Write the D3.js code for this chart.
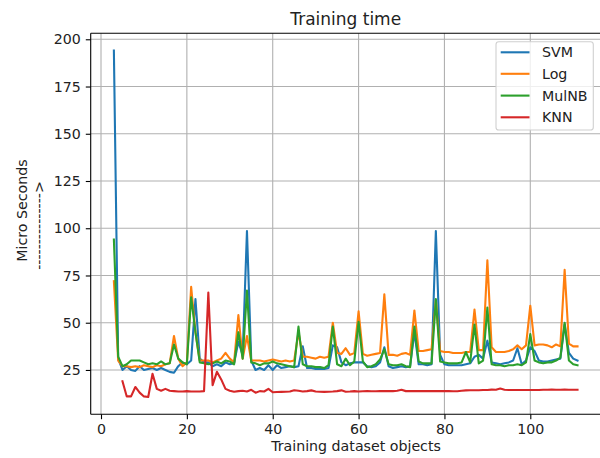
<!DOCTYPE html>
<html>
<head>
<meta charset="utf-8">
<script src="https://cdn.jsdelivr.net/npm/d3@7"></script>
<style>
  html, body { margin: 0; padding: 0; background: #fff; }
  svg { display: block; font-family: "DejaVu Sans", sans-serif; }
</style>
</head>
<body>
<svg id="chart" width="600" height="458"></svg>
<script>
// ---------------- data ----------------
const xMain = [3,4,5,6,7,8,9,10,11,12,13,14,15,16,17,18,19,20,21,22,23,24,25,26,27,28,29,30,31,32,33,34,35,36,37,38,39,40,41,42,43,44,45,46,47,48,49,50,51,52,53,54,55,56,57,58,59,60,61,62,63,64,65,66,67,68,69,70,71,72,73,74,75,76,77,78,79,80,81,82,83,84,85,86,87,88,89,90,91,92,93,94,95,96,97,98,99,100,101,102,103,104,105,106,107,108,109,110,111];
const xKnn = xMain.slice(2);

const svm = [194,31,25,27,25,24.5,27,25,25.5,26,25,26,25,24,23.5,27,29,28,30,62.5,31,29,29,27,28,27,29,28,28.5,40,33,98.5,30,25,26,25,27.5,25,27.5,26,26.5,27,26.5,27,37.5,26,26,25.5,25.5,25.5,26,38,37,29,27.5,28.5,29,29,29,27,26.5,27,29,37,27,26,26.5,27,26.5,27,45,28,28,27.5,28,98.5,33,28,27.5,27.5,27.5,27.5,28,28.5,32,33,31,40.5,29,28.5,28,28.5,29,30,36.5,28,30,37,35,30,29.5,29.5,30,30.5,31,49,34,31,30];

const logr = [72,30,27,27,26.5,27,26.5,27.5,27,26.5,27.5,27,28,28.5,43,31,27,29,69,45,30,30,30,29,30,31,34,31,29,54,31,43,30,30,30,29.5,30,30.5,30,29.5,30,29.5,30,45,32,32,31.5,31,32,31.5,32,50,34,33.5,36.5,33,34,56,33.5,32.5,33,33.5,34,65,33,33,32.5,33.5,34,33,56.5,35,35,35.5,36,62,35,34.5,34.5,34,34,34,34.5,34.5,57,35.5,35.5,83,37,34.5,34.5,34.5,35,36,38,36,38,59,38,38.5,38.5,38,37,38.5,37.5,78,39,37.5,37.5];

const mulnb = [94,32,27,28,30,30,30,29,28,28.5,28,29.5,28,28.5,38.5,31,29,28,63.5,45,29,28.5,28,28.5,29.5,28.5,30,29.5,28,45,31,67,29,28.5,27.5,28.5,28.5,29.5,28.5,28,27.5,27,26.5,48,28,27,27,26.5,26.5,26,27.5,48,28,27,31,27.5,29.5,50.5,29.5,26.5,27,28,30.5,36,28,27.5,27.5,28,27,26.5,48,29.5,28.5,28.5,28.5,62.5,29.5,29,28.5,28.5,28.5,29,34.5,29,49,28.5,30,58,28,27.5,27.5,27,27.5,27.5,28,27.5,29,44,30,29,28.5,29,29,30,31.5,50,30,28,27.5];

const knn = [19,11,11,16,13,11,10.7,23,15,14,15,14,13.8,13.6,13.6,13.8,13.6,13.6,13.6,13.8,66,17,24,20,15,14,13.5,13.8,14,13.6,14.5,13,13.8,13.6,15,13.2,13.3,13.4,13.5,13.6,14.3,14,13.6,13.8,14.2,13.6,13.5,13.4,13.5,13.6,13.8,14.2,13.5,13.6,13.8,13.6,13.7,13.8,13.7,13.7,13.8,13.8,13.8,13.8,14,14.5,13.8,13.8,13.8,13.8,13.8,13.8,13.8,13.8,13.8,13.8,13.8,13.7,13.7,14,14.2,14.3,14.3,14.3,14.4,14.4,14.6,14.5,15.2,14.5,14.4,14.4,14.4,14.4,14.4,14.4,14.4,14.4,14.5,14.5,14.6,14.5,14.5,14.6,14.5,14.5,14.5];

const seriesNames = ["SVM", "Log", "MulNB", "KNN"];
const seriesColors = ["#1f77b4", "#ff7f0e", "#2ca02c", "#d62728"];
const xTicks = [0, 20, 40, 60, 80, 100];
const yTicks = [25, 50, 75, 100, 125, 150, 175, 200];
const titleText = "Training time";
const xLabel = "Training dataset objects";
const yLabel1 = "Micro Seconds";
const yLabel2 = "--------------->";

(function () {
// ---------------- layout ----------------
const svg = d3.select("#chart");
const L = 90.7, R = 600.7, T = 33.3, B = 414.3;
const FS = 14.2;

const series = [
  {name: seriesNames[0], xs: xMain, ys: svm},
  {name: seriesNames[1], xs: xMain, ys: logr},
  {name: seriesNames[2], xs: xMain, ys: mulnb},
  {name: seriesNames[3], xs: xKnn, ys: knn}
];

const allX = series.flatMap(s => s.xs), allY = series.flatMap(s => s.ys);
const [x0, x1] = d3.extent(allX), [y0, y1] = d3.extent(allY);
const px = (x1 - x0) * 0.05, py = (y1 - y0) * 0.05;

const x = d3.scaleLinear().domain([x0 - px, x1 + px]).range([L, R]);
const y = d3.scaleLinear().domain([y0 - py, y1 + py]).range([B, T]);

// grid
const grid = svg.append("g").attr("stroke", "#b0b0b0").attr("stroke-width", 1.1);
xTicks.forEach(t => grid.append("line").attr("x1", x(t)).attr("x2", x(t)).attr("y1", T).attr("y2", B));
yTicks.forEach(t => grid.append("line").attr("x1", L).attr("x2", R).attr("y1", y(t)).attr("y2", y(t)));

// lines
svg.append("clipPath").attr("id", "clip").append("rect")
  .attr("x", L).attr("y", T).attr("width", R - L).attr("height", B - T);
const lineGen = d3.line().x(d => x(d[0])).y(d => y(d[1]));
const lg = svg.append("g").attr("clip-path", "url(#clip)");
series.forEach((s, i) => {
  lg.append("path")
    .datum(s.xs.map((v, k) => [v, s.ys[k]]))
    .attr("d", lineGen)
    .attr("fill", "none")
    .attr("stroke", seriesColors[i])
    .attr("stroke-width", 2.1)
    .attr("stroke-linejoin", "round")
    .attr("stroke-linecap", "square");
});

// axes
const xAxis = d3.axisBottom(x).tickValues(xTicks).tickSizeInner(4.9).tickSizeOuter(0).tickPadding(4.6);
const yAxis = d3.axisLeft(y).tickValues(yTicks).tickSizeInner(4.9).tickSizeOuter(0).tickPadding(4.9);
const gx = svg.append("g").attr("transform", `translate(0,${B})`).call(xAxis);
const gy = svg.append("g").attr("transform", `translate(${L},0)`).call(yAxis);
[gx, gy].forEach(g => {
  g.select(".domain").remove();
  g.selectAll(".tick line").attr("stroke", "#000").attr("stroke-width", 1.1);
  g.selectAll(".tick text").attr("fill", "#222").attr("font-size", FS).attr("font-family", "DejaVu Sans");
});

// spines
const sp = svg.append("g").attr("stroke", "#000").attr("stroke-width", 1.1);
sp.append("line").attr("x1", L).attr("x2", L).attr("y1", T).attr("y2", B);
sp.append("line").attr("x1", L).attr("x2", R).attr("y1", B).attr("y2", B);
sp.append("line").attr("x1", L).attr("x2", R).attr("y1", T).attr("y2", T);
sp.append("line").attr("x1", R).attr("x2", R).attr("y1", T).attr("y2", B);

// title and labels
const cx = (L + R) / 2;
svg.append("text").attr("x", cx).attr("y", 24.5).attr("text-anchor", "middle")
  .attr("font-size", 17).attr("fill", "#222").text(titleText);
svg.append("text").attr("x", 356).attr("y", 451).attr("text-anchor", "middle")
  .attr("font-size", FS).attr("fill", "#222").text(xLabel);
svg.append("text").attr("transform", "translate(26.5,210.5) rotate(-90)").attr("text-anchor", "middle")
  .attr("font-size", FS).attr("fill", "#222").text(yLabel1);
svg.append("text").attr("transform", "translate(44,225.5) rotate(-90)").attr("text-anchor", "middle")
  .attr("font-size", FS).attr("fill", "#222").text(yLabel2);

// legend
const leg = svg.append("g");
leg.append("rect").attr("x", 496).attr("y", 41.7).attr("width", 97.3).attr("height", 88.3)
  .attr("rx", 2.8).attr("fill", "#fff").attr("fill-opacity", 0.8)
  .attr("stroke", "#d0d0d0").attr("stroke-width", 1.1);
const ly = [52.3, 73.8, 95.6, 117.3];
series.forEach((s, i) => {
  leg.append("line").attr("x1", 500.7).attr("x2", 529.5).attr("y1", ly[i]).attr("y2", ly[i])
    .attr("stroke", seriesColors[i]).attr("stroke-width", 2.1);
  leg.append("text").attr("x", 542).attr("y", ly[i]).attr("dy", "0.36em")
    .attr("font-size", FS).attr("fill", "#222").text(s.name);
});
})();
</script>
</body>
</html>
